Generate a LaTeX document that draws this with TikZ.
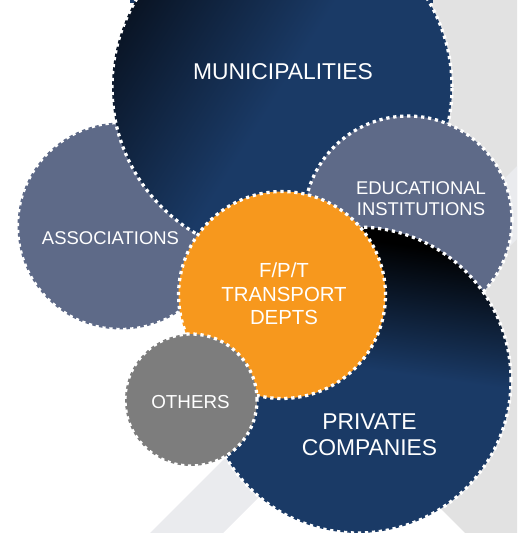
\documentclass[tikz,border=0pt]{standalone}
\usepackage{fontspec}
\setmainfont{Liberation Sans}
\definecolor{navy}{HTML}{1A3A66}
\definecolor{navydark}{HTML}{08111F}
\definecolor{slate}{HTML}{5E6A88}
\definecolor{fptorange}{HTML}{F7981D}
\definecolor{othgray}{HTML}{7D7D7D}
\definecolor{bggray}{HTML}{E2E2E2}
\definecolor{bandgray}{HTML}{EAEBEE}
\pgfdeclareverticalshading{munishade}{100bp}{color(0bp)=(navy); color(50bp)=(navy); color(77bp)=(navydark); color(100bp)=(navydark)}
\pgfdeclareverticalshading{privshade}{100bp}{color(0bp)=(navy); color(52bp)=(navy); color(73bp)=(black); color(100bp)=(black)}
\begin{document}
\begin{tikzpicture}[x=0.02cm, y=-0.02cm]
	
	% Style for the circles
	\tikzstyle{bubble}=[
	circle,
	draw=white,
	line width=0.065cm,
	dash pattern=on 0.065cm off 0.075cm,
	inner sep=0pt
	]
	% Style for the texts
	\tikzstyle{lbl}=[
	text=white,
	align=center,
	inner sep=0pt,
	font=\fontsize{10.5}{11.9}\selectfont
	]
	\tikzstyle{lblbig}=[lbl, font=\fontsize{13}{14.7}\selectfont]
	\useasboundingbox (0,0) rectangle (517,533);
	\clip (0,0) rectangle (517,533);
	
	% --- Background ---
	\fill[bggray] (420,0) -- (517,0) -- (517,533) -- (465,533) -- (176,244) -- cycle;
	\fill[bandgray] (150,533) -- (223,533) -- (517,239) -- (517,166) -- cycle;
	\fill[navy] (130,0) rectangle (433,3);
	
	% --- Circles, back to front ---
	\node[bubble, fill=slate, minimum size=4.14cm] (ASC) at (121,226) {};
	\node[bubble, minimum size=6.8cm, shading=munishade, shading angle=58] (MUN) at (282,87) {};
	\node[bubble, fill=slate, minimum size=4.16cm] (EDU) at (408,220) {};
	\node[bubble, minimum size=6.12cm, shading=privshade, shading angle=-8] (PRC) at (358,380) {};
	\node[bubble, fill=fptorange, minimum size=4.14cm] (FPT) at (282,295) {};
	\node[bubble, fill=othgray, minimum size=2.64cm] (OTH) at (191,400) {};
	
	% --- Texts ---
	\node[lblbig] (MUNtxt) at (283,71.5) {MUNICIPALITIES};
	\node[lbl] (ASCtxt) at (110.5,238.5) {ASSOCIATIONS};
	\node[lbl] (EDUtxt) at (421,199) {EDUCATIONAL\\INSTITUTIONS};
	\node[lbl, font=\fontsize{11.6}{13.3}\selectfont] (FPTtxt) at (284,294) {F/P/T\\TRANSPORT\\DEPTS};
	\node[lbl, font=\fontsize{10.7}{12}\selectfont] (OTHtxt) at (190.5,402) {OTHERS};
	\node[lblbig] (PRCtxt) at (369.5,434.5) {PRIVATE\\COMPANIES};
\end{tikzpicture}
\end{document}
